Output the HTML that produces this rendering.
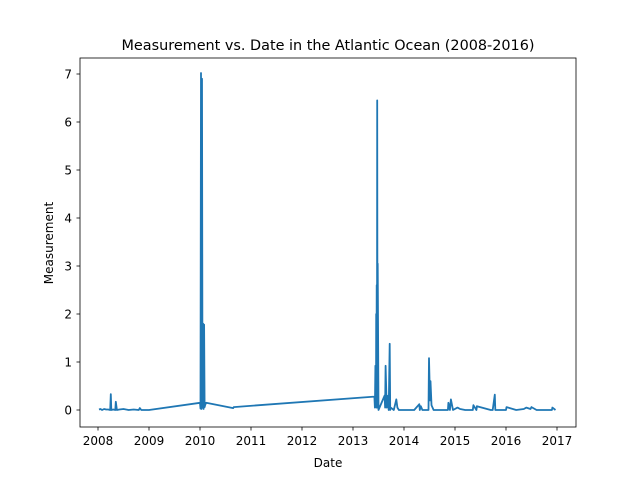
<!DOCTYPE html>
<html><head><meta charset="utf-8"><style>
body{margin:0;background:#fff;}
svg{display:block;font-family:"DejaVu Sans","Liberation Sans",sans-serif;}
</style></head><body>
<svg id="chart" width="640" height="480">
<rect x="0" y="0" width="640" height="480" fill="#fff"/>
<text x="328" y="50" text-anchor="middle" font-size="14.4">Measurement vs. Date in the Atlantic Ocean (2008-2016)</text>
<g id="plot"></g>
<rect x="80" y="58" width="496" height="369" fill="none" stroke="#000" stroke-width="0.8"/>
<g id="xt"></g><g id="yt"></g>
<text x="328" y="467" text-anchor="middle" font-size="12">Date</text>
<text transform="translate(53,243) rotate(-90)" text-anchor="middle" font-size="12">Measurement</text>
</svg>
<script>
const dates=[2008.02,2008.05,2008.08,2008.12,2008.16,2008.2,2008.24,2008.25,2008.26,2008.3,2008.34,2008.35,2008.37,2008.42,2008.5,2008.6,2008.7,2008.8,2008.82,2008.85,2008.93,2009.0,
2010.0,2010.01,2010.02,2010.03,2010.04,2010.05,2010.06,2010.07,2010.08,2010.09,2010.1,2010.12,2010.65,2010.66,
2013.42,2013.43,2013.44,2013.45,2013.455,2013.46,2013.465,2013.47,2013.475,2013.48,2013.485,2013.5,2013.62,2013.63,2013.64,2013.66,2013.67,2013.7,2013.72,2013.73,2013.74,2013.8,2013.85,2013.87,2013.9,2013.95,2014.2,2014.3,2014.31,2014.33,2014.36,2014.45,2014.48,2014.49,2014.51,2014.52,2014.54,2014.58,2014.82,2014.86,2014.87,2014.9,2014.92,2014.96,2015.05,2015.1,2015.2,2015.35,2015.36,2015.42,2015.43,2015.7,2015.74,2015.78,2015.79,2016.0,2016.01,2016.2,2016.35,2016.4,2016.48,2016.5,2016.6,2016.9,2016.91,2016.97];
const values=[0.01,0.02,0.0,0.02,0.01,0.01,0.0,0.33,0.0,0.01,0.0,0.17,0.0,0.01,0.02,0.0,0.01,0.0,0.04,0.0,0.0,0.0,
0.15,0.03,7.02,0.02,6.9,0.05,1.8,0.02,1.78,0.06,0.1,0.15,0.04,0.06,
0.28,0.05,0.92,0.1,2.0,0.05,2.6,0.1,6.45,0.05,3.05,0.0,0.3,0.05,0.92,0.05,0.3,0.0,1.38,0.0,0.05,0.0,0.22,0.05,0.0,0.0,0.0,0.12,0.0,0.08,0.0,0.0,0.0,1.08,0.2,0.6,0.1,0.0,0.0,0.0,0.15,0.0,0.22,0.0,0.05,0.02,0.0,0.0,0.1,0.0,0.08,0.0,0.0,0.32,0.0,0.0,0.06,0.0,0.02,0.05,0.02,0.06,0.0,0.0,0.05,0.0];
const xTicks=[2008,2009,2010,2011,2012,2013,2014,2015,2016,2017];
const yTicks=[0,1,2,3,4,5,6,7];
const NS="http://www.w3.org/2000/svg";
function X(d){return 98+(d-2008)*51;}
function Y(v){return 410-v*48;}
const plot=document.getElementById('plot');
const pl=document.createElementNS(NS,'polyline');
pl.setAttribute('points',dates.map((d,i)=>X(d).toFixed(1)+','+Y(values[i]).toFixed(1)).join(' '));
pl.setAttribute('fill','none');pl.setAttribute('stroke','#1f77b4');pl.setAttribute('stroke-width','1.8');pl.setAttribute('stroke-linejoin','round');


plot.appendChild(pl);
const xt=document.getElementById('xt');
xTicks.forEach(t=>{
 const l=document.createElementNS(NS,'line');
 l.setAttribute('x1',X(t));l.setAttribute('x2',X(t));l.setAttribute('y1',427);l.setAttribute('y2',430.5);l.setAttribute('stroke','#000');l.setAttribute('stroke-width','0.8');
 
 
 xt.appendChild(l);
 const tx=document.createElementNS(NS,'text');
 tx.setAttribute('x',X(t));tx.setAttribute('y',445);tx.setAttribute('text-anchor','middle');tx.setAttribute('font-size','12');tx.textContent=t;
 
 
 xt.appendChild(tx);
});
const yt=document.getElementById('yt');
yTicks.forEach(t=>{
 const l=document.createElementNS(NS,'line');
 l.setAttribute('x1',76.5);l.setAttribute('x2',80);l.setAttribute('y1',Y(t));l.setAttribute('y2',Y(t));l.setAttribute('stroke','#000');l.setAttribute('stroke-width','0.8');
 
 
 yt.appendChild(l);
 const tx=document.createElementNS(NS,'text');
 tx.setAttribute('x',72);tx.setAttribute('y',Y(t)+4.5);tx.setAttribute('text-anchor','end');tx.setAttribute('font-size','12');tx.textContent=t;
 
 
 yt.appendChild(tx);
});
</script>
</body></html>
